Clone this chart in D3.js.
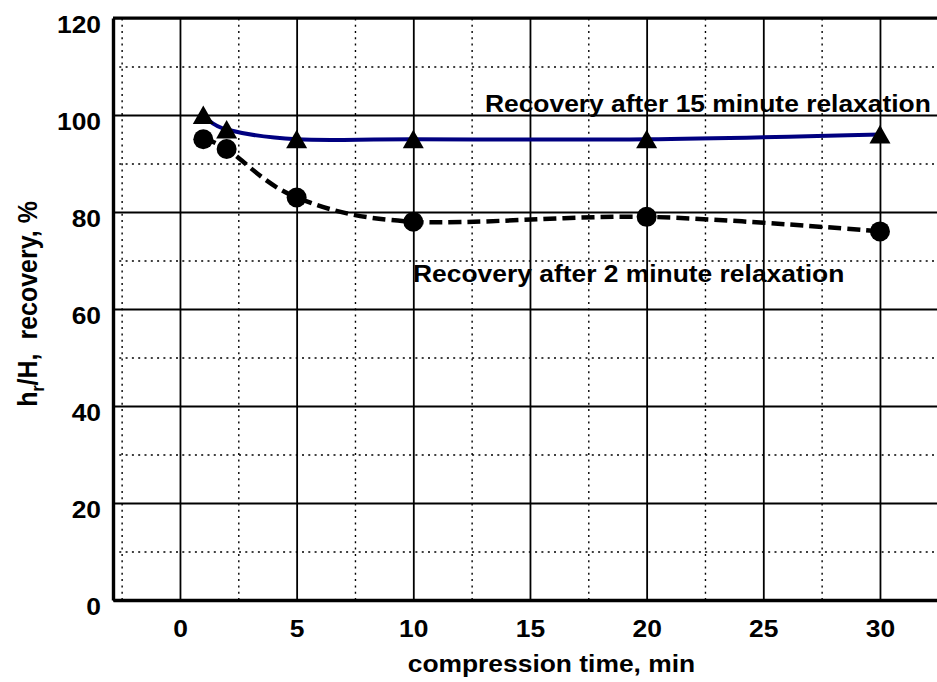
<!DOCTYPE html>
<html>
<head>
<meta charset="utf-8">
<script src="https://cdn.jsdelivr.net/npm/d3@7"></script>
<style>
  body { margin: 0; background: #ffffff; }
  text { font-family: "Liberation Sans", Arial, sans-serif; font-weight: bold; fill: #000000; }
</style>
</head>
<body>
<div id="chart"></div>
<script>
// compression time (min) and recovery (%)
var times = [1, 2, 5, 10, 20, 30];
var recovery15 = [100, 97, 95, 95, 95, 96];  // after 15 minute relaxation
var recovery2 = [95, 93, 83, 78, 79, 76];    // after 2 minute relaxation

var xTicks = [0, 5, 10, 15, 20, 25, 30];
var xMinor = [-2.5, 2.5, 7.5, 12.5, 17.5, 22.5, 27.5, 32.5];
var yTicks = [0, 20, 40, 60, 80, 100, 120];
var yMinor = [10, 30, 50, 70, 90, 110];

chart();

function chart() {
  var W = 937, H = 682,
      margin = {top: 18, left: 113},
      width = 826,
      height = 582,
      stretch = 1.1; // the picture text is a bit wider than tall

  var svg = d3.select("#chart").append("svg")
    .attr("width", W)
    .attr("height", H);

  var g = svg.append("g")
    .attr("transform", "translate(" + margin.left + "," + margin.top + ")");

  var x = d3.scaleLinear()
    .domain([-2.87, 32.53])
    .range([0, width]);
  var y = d3.scaleLinear()
    .domain([0, 120])
    .range([height, 0]);

  // dotted minor grid
  g.append("g")
    .attr("class", "grid minor")
    .attr("transform", "translate(0," + height + ")")
    .call(d3.axisBottom(x).tickValues(xMinor).tickSize(-height).tickFormat(""));
  g.append("g")
    .attr("class", "grid minor")
    .call(d3.axisLeft(y).tickValues(yMinor).tickSize(-width).tickFormat(""));
  g.selectAll(".grid.minor line")
    .style("stroke", "#000")
    .style("stroke-width", 1.4)
    .style("stroke-dasharray", "2,4.3");

  // solid major grid
  g.append("g")
    .attr("class", "grid major")
    .attr("transform", "translate(0," + height + ")")
    .call(d3.axisBottom(x).tickValues(xTicks).tickSize(-height).tickFormat(""));
  g.append("g")
    .attr("class", "grid major")
    .call(d3.axisLeft(y).tickValues(yTicks).tickSize(-width).tickFormat(""));
  g.selectAll(".grid.major line")
    .style("stroke", "#000")
    .style("stroke-width", 1.8);
  g.selectAll(".grid .domain").remove();

  // top border (120 line) is heavier
  g.append("line")
    .attr("x1", 0).attr("x2", width)
    .attr("y1", y(120)).attr("y2", y(120))
    .style("stroke", "#000").style("stroke-width", 3.2);

  // axes with labels
  var xAxis = g.append("g")
    .attr("class", "axis")
    .attr("transform", "translate(0," + height + ")")
    .call(d3.axisBottom(x).tickValues(xTicks).tickSize(0).tickPadding(0));
  xAxis.selectAll("text")
    .attr("y", 37.5)
    .attr("dy", null)
    .attr("transform", "scale(" + stretch + ",1)");

  var yAxis = g.append("g")
    .attr("class", "axis")
    .call(d3.axisLeft(y).tickValues(yTicks).tickSize(0).tickPadding(0));
  yAxis.selectAll("text")
    .attr("x", 0)
    .attr("y", 14)
    .attr("dy", null)
    .attr("transform", "translate(-12,0) scale(" + stretch + ",1)");

  g.selectAll(".axis")
    .attr("font-family", null)
    .attr("font-size", null);
  g.selectAll(".axis text")
    .style("font-size", "24px");
  g.selectAll(".axis .domain")
    .style("stroke", "#000")
    .style("stroke-width", 3.4);

  // smoothed lines
  var line = d3.line()
    .x(function(d) { return x(d[0]); })
    .y(function(d) { return y(d[1]); })
    .curve(d3.curveCatmullRom.alpha(0));

  var s15 = times.map(function(t, i) { return [t, recovery15[i]]; });
  var s2 = times.map(function(t, i) { return [t, recovery2[i]]; });

  g.append("path")
    .datum(s2)
    .attr("d", line)
    .style("fill", "none")
    .style("stroke", "#000")
    .style("stroke-width", 4.5)
    .style("stroke-dasharray", "13,6");

  g.append("path")
    .datum(s15)
    .attr("d", line)
    .style("fill", "none")
    .style("stroke", "#000080")
    .style("stroke-width", 4);

  // markers
  g.selectAll("circle.m2")
    .data(s2).enter()
    .append("circle")
    .attr("class", "m2")
    .attr("cx", function(d) { return x(d[0]); })
    .attr("cy", function(d) { return y(d[1]); })
    .attr("r", 10)
    .style("fill", "#000");

  g.selectAll("path.m15")
    .data(s15).enter()
    .append("path")
    .attr("class", "m15")
    .attr("d", "M0,-9.5L10.5,9L-10.5,9Z")
    .attr("transform", function(d) { return "translate(" + x(d[0]) + "," + y(d[1]) + ")"; })
    .style("fill", "#000");

  // annotations
  g.append("text")
    .attr("transform", "translate(" + x(13.07) + "," + y(100.6) + ") scale(" + stretch + ",1)")
    .style("font-size", "24px")
    .text("Recovery after 15 minute relaxation");

  g.append("text")
    .attr("transform", "translate(" + x(9.99) + "," + y(65.6) + ") scale(" + stretch + ",1)")
    .style("font-size", "24px")
    .text("Recovery after 2 minute relaxation");

  // axis titles
  svg.append("text")
    .attr("transform", "translate(" + (margin.left + x(15.92)) + ",672) scale(" + stretch + ",1)")
    .style("font-size", "24px")
    .style("text-anchor", "middle")
    .text("compression time, min");

  var yt = svg.append("text")
    .attr("transform", "translate(37," + (margin.top + height / 2 - 5) + ") scale(" + stretch + ",1) rotate(-90)")
    .style("font-size", "25px")
    .style("text-anchor", "middle")
    .style("white-space", "pre");
  yt.append("tspan").text("h");
  yt.append("tspan").attr("dy", 6).style("font-size", "16px").text("r");
  yt.append("tspan").attr("dy", -6).text("/H,  recovery, %");
}
</script>
</body>
</html>
